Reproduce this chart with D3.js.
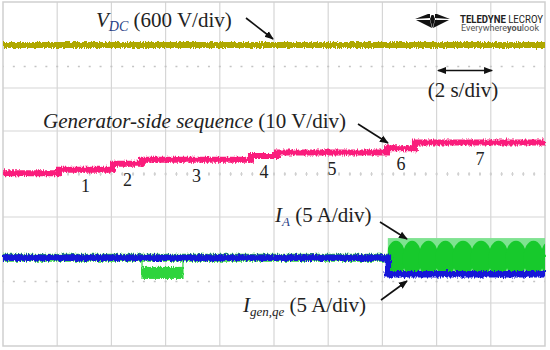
<!DOCTYPE html>
<html>
<head>
<meta charset="utf-8">
<script src="https://cdn.jsdelivr.net/npm/d3@7"></script>
<style>
  body { margin: 0; background: #fff; }
  svg { display: block; }
  text { font-family: "Liberation Serif", "DejaVu Serif", serif; fill: #222; }
  text.logo { font-family: Roboto, "Liberation Sans", sans-serif; }
</style>
</head>
<body>
<div id="scope"></div>
<script>
// screen is 10 x 8 divisions, 2 s/div; all levels below are read in divisions from screen centre
var timeSpan = [0, 20]
var divSpan = [-4, 4]

// V_DC trace (600 V/div)
var vdcTimes = [0, 20]
var vdcLevels = [3.0, 3.0]

// generator-side sequence (10 V/div), one level per step
var seqTimes = [0, 2.03, 4.06, 5.13, 9.15, 10.11, 14.17, 15.2, 20]
var seqLevels = [0.02, 0.10, 0.24, 0.33, 0.42, 0.50, 0.60, 0.73, 0.73]
var seqLabels = ["", "1", "2", "3", "4", "5", "6", "7"]

// I_gen,qe (5 A/div)
var igenTimes = [0, 14.2, 20]
var igenLevels = [-1.95, -2.33, -2.33]

// I_A (5 A/div): zero level, short dc pulse, then ac with beat lobes
var iaTimes = [0, 20]
var iaLevels = [-1.95, -1.95]
var iaPulseTimes = [5.13, 6.64]
var iaPulseBand = [-2.44, -2.16]
var iaAcBand = [-2.3, -1.49]
var iaLobeTop = -1.55
var iaBeatTimes = [14.2, 14.8, 15.39, 16.01, 16.64, 17.31, 17.97, 18.6, 19.26, 19.89, 20.52]

draw()

function draw() {
    var width = 550, height = 350
    var box = {left: 3, right: 545, top: 2, bottom: 346}

    var svg = d3.select("#scope").append("svg")
        .attr("width", width)
        .attr("height", height)

    var x = d3.scaleLinear().domain(timeSpan).range([box.left, box.right])
    var y = d3.scaleLinear().domain(divSpan).range([box.bottom, box.top])

    var defs = svg.append("defs")
    var rough = defs.append("filter").attr("id", "rough")
        .attr("filterUnits", "userSpaceOnUse")
        .attr("x", 0).attr("y", 0).attr("width", width).attr("height", height)
    rough.append("feTurbulence").attr("type", "fractalNoise")
        .attr("baseFrequency", "0.9 0.25").attr("numOctaves", 2).attr("seed", 4).attr("result", "n")
    rough.append("feDisplacementMap").attr("in", "SourceGraphic").attr("in2", "n")
        .attr("scale", 5).attr("xChannelSelector", "R").attr("yChannelSelector", "G")

    defs.append("clipPath").attr("id", "acclip")
        .append("rect")
        .attr("x", x(iaBeatTimes[0])).attr("y", 0)
        .attr("width", box.right - x(iaBeatTimes[0])).attr("height", height)

    var mk = defs.append("marker").attr("id", "head")
        .attr("viewBox", "0 0 10 10").attr("refX", 9).attr("refY", 5)
        .attr("markerWidth", 9).attr("markerHeight", 9).attr("markerUnits", "userSpaceOnUse")
        .attr("orient", "auto-start-reverse")
    mk.append("path").attr("d", "M0,1 L10,5 L0,9 Z").attr("fill", "#111")

    // graticule
    var grid = svg.append("g").attr("stroke", "#d6d6d6").attr("stroke-width", 1.2)
    grid.selectAll("line.v").data(d3.range(1, 10).map(d => d * 2))
        .join("line")
        .attr("x1", d => x(d)).attr("x2", d => x(d))
        .attr("y1", box.top).attr("y2", box.bottom)
    grid.selectAll("line.h").data([-3, -2, -1, 1, 2, 3])
        .join("line")
        .attr("x1", box.left).attr("x2", box.right)
        .attr("y1", d => y(d)).attr("y2", d => y(d))
    var minor = (x(2) - x(0)) / 5
    svg.append("g").selectAll("line").data([-2.5, 0, 2.5])
        .join("line")
        .attr("x1", box.left).attr("x2", box.right)
        .attr("y1", d => y(d)).attr("y2", d => y(d))
        .attr("stroke", "#c4c4c4").attr("stroke-width", 1.3)
        .attr("stroke-dasharray", `2,${minor - 2}`)
        .attr("stroke-dashoffset", -minor + 1)
    svg.append("g").selectAll("line").data(d3.range(1, 50))
        .join("line")
        .attr("x1", d => box.left + d * minor).attr("x2", d => box.left + d * minor)
        .attr("y1", y(0) - 2).attr("y2", y(0) + 2)
        .attr("stroke", "#d0d0d0")
    svg.append("rect")
        .attr("x", box.left).attr("y", box.top)
        .attr("width", box.right - box.left).attr("height", box.bottom - box.top)
        .attr("fill", "none").attr("stroke", "#cfcfcf").attr("stroke-width", 1.5)

    var step = d3.line().curve(d3.curveStepAfter).x(d => x(d[0])).y(d => y(d[1]))
    var traces = svg.append("g").attr("filter", "url(#rough)").attr("fill", "none")

    // V_DC
    traces.append("path")
        .attr("d", step(d3.zip(vdcTimes, vdcLevels)))
        .attr("stroke", "#afa800").attr("stroke-width", 6)

    // sequence
    traces.append("path")
        .attr("d", step(d3.zip(seqTimes, seqLevels)))
        .attr("stroke", "#fa1f7c").attr("stroke-width", 6)

    // I_A
    var green = svg.append("g")
    green.append("path")
        .attr("d", step(d3.zip(iaTimes, iaLevels)))
        .attr("stroke", "#2fd43c").attr("stroke-width", 8).attr("fill", "none")
        .attr("filter", "url(#rough)")
    green.append("rect")
        .attr("x", x(iaPulseTimes[0])).attr("width", x(iaPulseTimes[1]) - x(iaPulseTimes[0]))
        .attr("y", y(iaPulseBand[1])).attr("height", y(iaPulseBand[0]) - y(iaPulseBand[1]))
        .attr("fill", "#2fd43c").attr("filter", "url(#rough)")
    green.selectAll("line.edge").data(iaPulseTimes)
        .join("line")
        .attr("x1", d => x(d)).attr("x2", d => x(d))
        .attr("y1", y(iaLevels[0])).attr("y2", y(iaPulseBand[0]))
        .attr("stroke", "#2fd43c").attr("stroke-width", 1.2)
    green.append("rect")
        .attr("x", x(iaBeatTimes[0])).attr("width", box.right - x(iaBeatTimes[0]))
        .attr("y", y(iaAcBand[1])).attr("height", y(iaAcBand[0]) - y(iaAcBand[1]))
        .attr("fill", "#7fe391")
    var lobes = d3.pairs(iaBeatTimes)
    var cy = y((iaAcBand[0] + iaAcBand[1]) / 2)
    green.append("g").attr("clip-path", "url(#acclip)")
        .selectAll("ellipse").data(lobes)
        .join("ellipse")
        .attr("cx", d => x((d[0] + d[1]) / 2))
        .attr("rx", d => (x(d[1]) - x(d[0])) * 0.6)
        .attr("cy", cy + 3)
        .attr("ry", cy + 3 - y(iaLobeTop))
        .attr("fill", "#17c92c")

    // I_gen,qe
    svg.append("path")
        .attr("d", step(d3.zip(igenTimes, igenLevels)))
        .attr("stroke", "#1414d8").attr("stroke-width", 6.5).attr("fill", "none")
        .attr("filter", "url(#rough)")

    // step numbers
    var segs = d3.pairs(seqTimes).map((d, i) => ({t: (d[0] + d[1]) / 2, v: seqLevels[i], label: seqLabels[i]}))
    svg.append("g").selectAll("text").data(segs.filter(d => d.label))
        .join("text")
        .attr("x", d => x(d.t)).attr("y", d => y(d.v) + 22)
        .attr("text-anchor", "middle").attr("font-size", 18)
        .text(d => d.label)

    // annotations
    var t1 = svg.append("text").attr("x", 96).attr("y", 27).attr("font-size", 21)
    t1.append("tspan").attr("font-style", "italic").text("V")
    t1.append("tspan").attr("font-style", "italic").attr("font-size", 14).attr("dy", 4)
        .style("fill", "#2a3f86").text("DC")
    t1.append("tspan").attr("dy", -4).text(" (600 V/div)")

    var t2 = svg.append("text").attr("x", 43).attr("y", 128).attr("font-size", 21)
    t2.append("tspan").attr("font-style", "italic").text("Generator-side sequence")
    t2.append("tspan").text(" (10 V/div)")

    var t3 = svg.append("text").attr("x", 275).attr("y", 222).attr("font-size", 21)
    t3.append("tspan").attr("font-style", "italic").text("I")
    t3.append("tspan").attr("font-style", "italic").attr("font-size", 13).attr("dy", 4)
        .style("fill", "#2a3f86").text("A")
    t3.append("tspan").attr("dy", -4).text(" (5 A/div)")

    var t4 = svg.append("text").attr("x", 243).attr("y", 312).attr("font-size", 21)
    t4.append("tspan").attr("font-style", "italic").text("I")
    t4.append("tspan").attr("font-style", "italic").attr("font-size", 13).attr("dy", 4).text("gen,qe")
    t4.append("tspan").attr("dy", -4).text(" (5 A/div)")

    svg.append("text").attr("x", 463).attr("y", 97).attr("font-size", 21)
        .attr("text-anchor", "middle").text("(2 s/div)")

    var arrows = [
        [[246, 18], [273, 39]],
        [[358, 124], [388, 143]],
        [[380, 222], [407, 239]],
        [[381, 300], [407, 281]]
    ]
    svg.append("g").selectAll("line").data(arrows)
        .join("line")
        .attr("x1", d => d[0][0]).attr("y1", d => d[0][1])
        .attr("x2", d => d[1][0]).attr("y2", d => d[1][1])
        .attr("stroke", "#111").attr("stroke-width", 1.6)
        .attr("marker-end", "url(#head)")
    svg.append("line")
        .attr("x1", x(16.05)).attr("x2", x(18.05)).attr("y1", 70.5).attr("y2", 70.5)
        .attr("stroke", "#111").attr("stroke-width", 1.6)
        .attr("marker-start", "url(#head)").attr("marker-end", "url(#head)")

    // logo
    var logo = svg.append("g").attr("transform", "translate(415,14)")
    logo.append("path").attr("fill", "#111")
        .attr("d", "M0,5 L13,0 L15,0 L15,4 Z M35,5 L22,0 L20,0 L20,4 Z M15,5 L17.5,14 L20,5 L18.5,1 L16.5,1 Z M1,6 L15,6 L17,14 Z M34,6 L20,6 L18,14 Z")
    logo.append("text").attr("class", "logo").attr("x", 45).attr("y", 8.5)
        .attr("font-size", 10).attr("textLength", 83).attr("lengthAdjust", "spacingAndGlyphs")
        .style("fill", "#222")
        .call(t => {
            t.append("tspan").attr("font-weight", "bold").text("TELEDYNE")
            t.append("tspan").text(" LECROY")
        })
    logo.append("text").attr("class", "logo").attr("x", 46).attr("y", 17)
        .attr("font-size", 8.5).attr("textLength", 78).attr("lengthAdjust", "spacingAndGlyphs")
        .style("fill", "#555")
        .call(t => {
            t.append("tspan").text("Everywhere")
            t.append("tspan").attr("font-weight", "bold").text("you")
            t.append("tspan").text("look")
        })
}
</script>
</body>
</html>
